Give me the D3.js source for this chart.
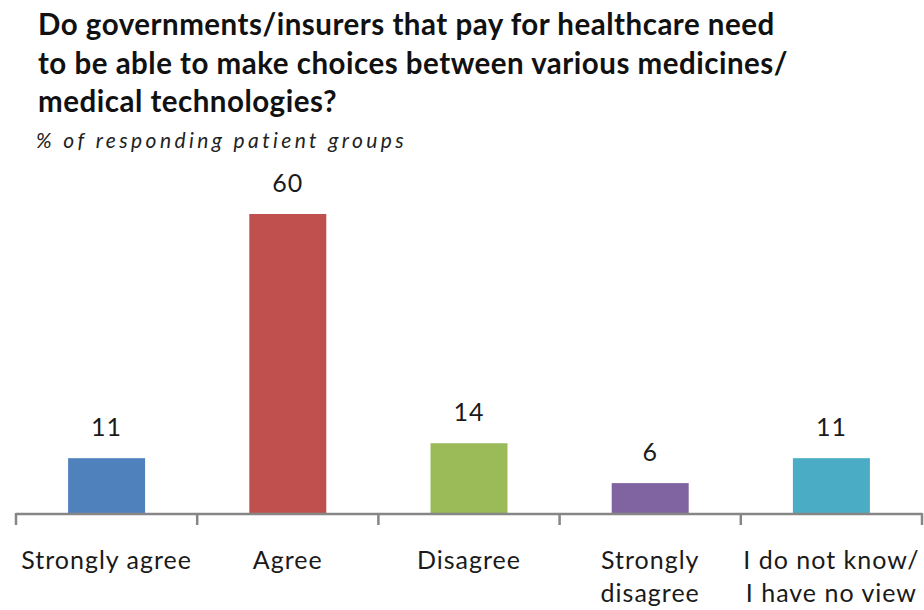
<!DOCTYPE html>
<html>
<head>
<meta charset="utf-8">
<script src="https://cdn.jsdelivr.net/npm/d3@7"></script>
<style>
  body { margin: 0; background: #fff; }
  text { font-family: Lato, "Open Sans", sans-serif; }
</style>
</head>
<body>
<svg id="chart" width="924" height="610"></svg>
<script>
var titleLines = [
  "Do governments/insurers that pay for healthcare need",
  "to be able to make choices between various medicines/",
  "medical technologies?"
];
var subtitle = "% of responding patient groups";
var categories = ["Strongly agree", "Agree", "Disagree", "Strongly disagree", "I do not know/ I have no view"];
var labelLines = [["Strongly agree"], ["Agree"], ["Disagree"], ["Strongly", "disagree"], ["I do not know/", "I have no view"]];
var values = [11, 60, 14, 6, 11];
var colors = ["#4F81BD", "#C0504D", "#9BBB59", "#8064A2", "#4BACC6"];

var svg = d3.select("svg#chart");

// title + subtitle
svg.append("g")
  .selectAll("text")
  .data(titleLines)
  .enter().append("text")
    .attr("x", 38)
    .attr("y", function(d, i) { return 35 + i * 38.5; })
    .attr("font-size", 29.5)
    .attr("font-weight", "bold")
    .attr("letter-spacing", 0.5)
    .attr("fill", "#111")
    .text(function(d) { return d; });

svg.append("text")
  .attr("x", 36)
  .attr("y", 148)
  .attr("font-size", 21)
  .attr("font-style", "italic")
  .attr("letter-spacing", 3.4)
  .attr("fill", "#222")
  .text(subtitle);

var x = d3.scaleBand()
    .domain(categories)
    .range([16, 922])
    .padding(0);

var y = d3.scaleLinear()
    .domain([0, 60])
    .range([513, 214]);

var barW = 77;

svg.append("g")
  .selectAll("rect")
  .data(values)
  .enter().append("rect")
    .attr("x", function(d, i) { return x(categories[i]) + (x.bandwidth() - barW) / 2; })
    .attr("y", function(d) { return y(d); })
    .attr("width", barW)
    .attr("height", function(d) { return y(0) - y(d); })
    .attr("fill", function(d, i) { return colors[i]; });

// value labels
svg.append("g")
  .selectAll("text")
  .data(values)
  .enter().append("text")
    .attr("x", function(d, i) { return x(categories[i]) + x.bandwidth() / 2; })
    .attr("y", function(d) { return y(d) - 22; })
    .attr("text-anchor", "middle")
    .attr("font-size", 25)
    .attr("letter-spacing", 1)
    .attr("fill", "#1a1a1a")
    .text(function(d) { return d; });

// axis: line + ticks at band edges
var axis = svg.append("g").attr("stroke", "#868686").attr("stroke-width", 2.5);
axis.append("line")
  .attr("x1", x.range()[0]).attr("x2", x.range()[1])
  .attr("y1", y(0) + 1).attr("y2", y(0) + 1);
var edges = categories.map(function(c) { return x(c); }).concat([x.range()[1]]);
axis.selectAll("line.tick")
  .data(edges)
  .enter().append("line")
    .attr("class", "tick")
    .attr("x1", function(d) { return d; }).attr("x2", function(d) { return d; })
    .attr("y1", y(0)).attr("y2", y(0) + 12);

// category labels
svg.append("g")
  .selectAll("text")
  .data(labelLines)
  .enter().append("text")
    .attr("x", function(d, i) { return x(categories[i]) + x.bandwidth() / 2; })
    .attr("y", 569)
    .attr("text-anchor", "middle")
    .attr("font-size", 25)
    .attr("letter-spacing", 1)
    .attr("fill", "#1a1a1a")
  .selectAll("tspan")
  .data(function(d) { return d; })
  .enter().append("tspan")
    .attr("x", function() { return d3.select(this.parentNode).attr("x"); })
    .attr("dy", function(d, i) { return i === 0 ? 0 : 33; })
    .text(function(d) { return d; });
</script>
</body>
</html>
